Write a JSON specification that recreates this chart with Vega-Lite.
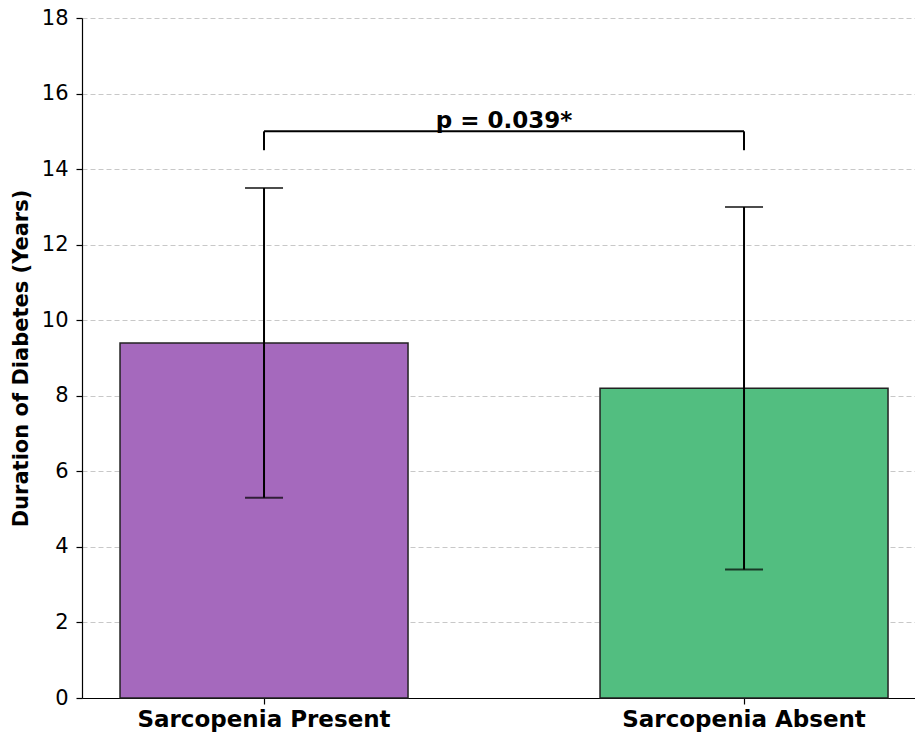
{
  "$schema": "https://vega.github.io/schema/vega-lite/v6.json",
  "autosize": "none",
  "width": 833,
  "height": 680,
  "padding": {"left": 82, "top": 18, "right": 0, "bottom": 39},
  "background": "white",
  "config": {
    "view": {"stroke": null},
    "font": "DejaVu Sans"
  },
  "datasets": {
    "bars": [
      {"group": "Sarcopenia Present", "mean": 9.4, "low": 5.3, "high": 13.5},
      {"group": "Sarcopenia Absent", "mean": 8.2, "low": 3.4, "high": 13.0}
    ],
    "bracket": [
      {"from": "Sarcopenia Present", "to": "Sarcopenia Absent", "y": 15.0, "yEnd": 14.5, "label": "p = 0.039*"}
    ]
  },
  "encoding": {
    "x": {
      "field": "group",
      "type": "nominal",
      "scale": {"domain": ["Sarcopenia Present", "Sarcopenia Absent"], "paddingInner": 0.4, "paddingOuter": 0.0677, "align": 0.585},
      "axis": {
        "title": null,
        "labelAngle": 0,
        "labelLimit": 0,
        "labelFont": "DejaVu Sans",
        "labelFontSize": 23,
        "labelFontWeight": "bold",
        "labelColor": "black",
        "labelPadding": 4,
        "domainColor": "black",
        "domainWidth": 1.2,
        "tickColor": "black",
        "tickSize": 6,
        "tickWidth": 1.2
      }
    }
  },
  "layer": [
    {
      "data": {"name": "bars"},
      "mark": {"type": "bar", "stroke": "#222222", "strokeWidth": 1.5},
      "encoding": {
        "y": {
          "field": "mean",
          "type": "quantitative",
          "scale": {"domain": [0, 18], "nice": false},
          "axis": {
            "title": "Duration of Diabetes (Years)",
            "titleFont": "DejaVu Sans",
            "titleFontSize": 21,
            "titleFontWeight": "bold",
            "titleColor": "black",
            "titlePadding": 10,
            "values": [0, 2, 4, 6, 8, 10, 12, 14, 16, 18],
            "labelFont": "DejaVu Sans",
            "labelFontSize": 21,
            "labelColor": "black",
            "labelPadding": 8,
            "domainColor": "black",
            "domainWidth": 1.2,
            "tickColor": "black",
            "tickSize": 6,
            "tickWidth": 1.2,
            "grid": true,
            "gridColor": "#c8c8c8",
            "gridDash": [5, 3],
            "gridWidth": 1
          }
        },
        "color": {
          "field": "group",
          "type": "nominal",
          "scale": {"domain": ["Sarcopenia Present", "Sarcopenia Absent"], "range": ["#a569bd", "#52be80"]},
          "legend": null
        }
      }
    },
    {
      "data": {"name": "bars"},
      "mark": {"type": "rule", "color": "black", "strokeWidth": 2},
      "encoding": {
        "y": {"field": "low", "type": "quantitative"},
        "y2": {"field": "high"}
      }
    },
    {
      "data": {"name": "bars"},
      "mark": {"type": "tick", "orient": "horizontal", "color": "black", "size": 38, "thickness": 2},
      "encoding": {
        "y": {"field": "low", "type": "quantitative"}
      }
    },
    {
      "data": {"name": "bars"},
      "mark": {"type": "tick", "orient": "horizontal", "color": "black", "size": 38, "thickness": 2},
      "encoding": {
        "y": {"field": "high", "type": "quantitative"}
      }
    },
    {
      "data": {"name": "bracket"},
      "mark": {"type": "rule", "color": "black", "strokeWidth": 2},
      "encoding": {
        "x": {"field": "from", "type": "nominal", "bandPosition": 0.5},
        "x2": {"field": "to", "bandPosition": 0.5},
        "y": {"field": "y", "type": "quantitative"}
      }
    },
    {
      "data": {"name": "bracket"},
      "mark": {"type": "rule", "color": "black", "strokeWidth": 2},
      "encoding": {
        "x": {"field": "from", "type": "nominal", "bandPosition": 0.5},
        "y": {"field": "y", "type": "quantitative"},
        "y2": {"field": "yEnd"}
      }
    },
    {
      "data": {"name": "bracket"},
      "mark": {"type": "rule", "color": "black", "strokeWidth": 2},
      "encoding": {
        "x": {"field": "to", "type": "nominal", "bandPosition": 0.5},
        "y": {"field": "y", "type": "quantitative"},
        "y2": {"field": "yEnd"}
      }
    },
    {
      "data": {"name": "bracket"},
      "mark": {"type": "text", "font": "DejaVu Sans", "fontSize": 23, "fontWeight": "bold", "color": "black", "baseline": "alphabetic", "align": "center", "dx": 240, "dy": -3},
      "encoding": {
        "x": {"field": "from", "type": "nominal", "bandPosition": 0.5},
        "y": {"field": "y", "type": "quantitative"},
        "text": {"field": "label"}
      }
    }
  ]
}
